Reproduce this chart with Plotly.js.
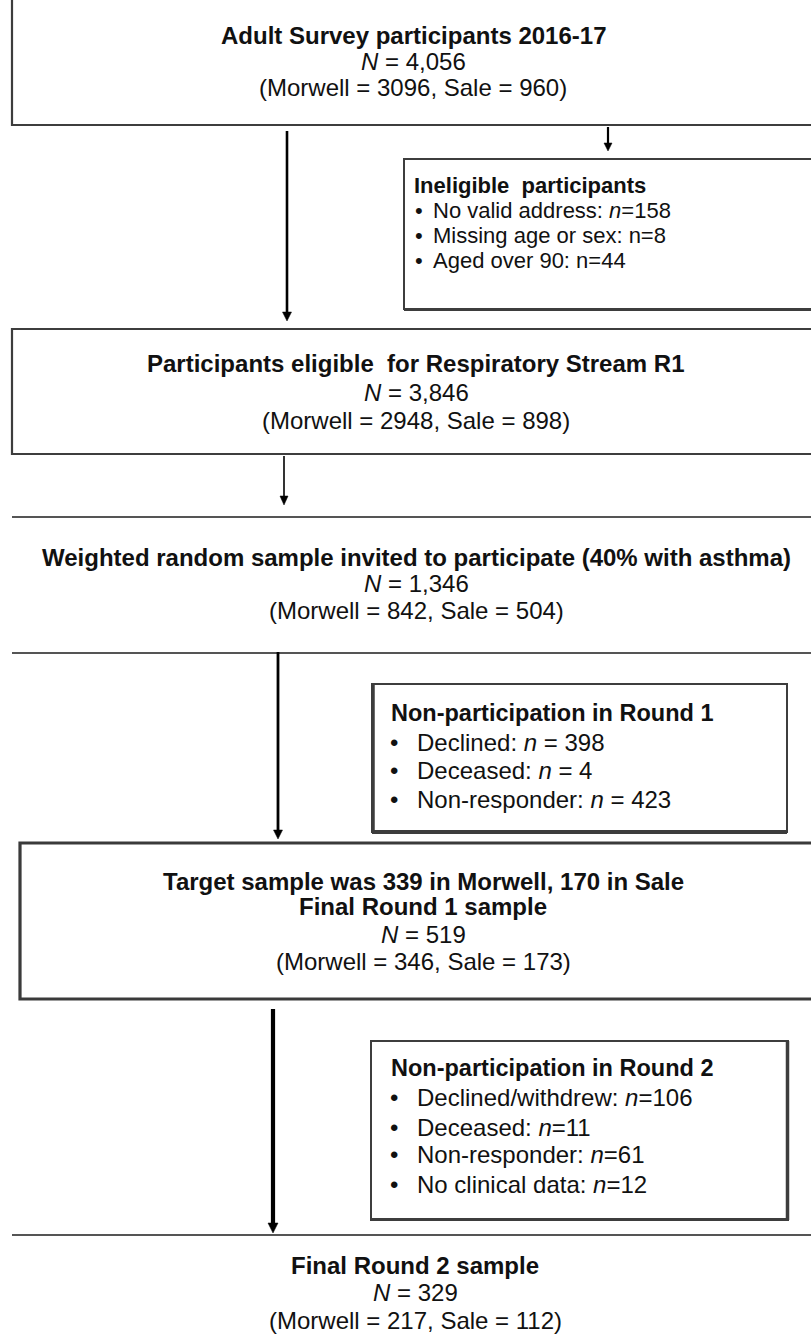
<!DOCTYPE html>
<html>
<head>
<meta charset="utf-8">
<script src="https://cdn.plot.ly/plotly-3.0.1.min.js"></script>
<style>html,body{margin:0;padding:0;background:#fff}#chart{width:811px;height:1344px}</style>
</head>
<body>
<div id="chart"></div>
<script>
// ---------- DATA ----------
const stageTitles = [
  ["Adult Survey participants 2016-17"],
  ["Participants eligible  for Respiratory Stream R1"],
  ["Weighted random sample invited to participate (40% with asthma)"],
  ["Target sample was 339 in Morwell, 170 in Sale", "Final Round 1 sample"],
  ["Final Round 2 sample"]
];
const stageN = ["4,056", "3,846", "1,346", "519", "329"];
const stageMorwell = [3096, 2948, 842, 346, 217];
const stageSale = [960, 898, 504, 173, 112];

const exclTitles = ["Ineligible  participants", "Non-participation in Round 1", "Non-participation in Round 2"];
const exclLabels = [
  ["No valid address", "Missing age or sex", "Aged over 90"],
  ["Declined", "Deceased", "Non-responder"],
  ["Declined/withdrew", "Deceased", "Non-responder", "No clinical data"]
];
const exclCounts = [[158, 8, 44], [398, 4, 423], [106, 11, 61, 12]];
const exclItalicN = [[true, false, false], [true, true, true], [true, true, true, true]];
const exclEq = ["=", " = ", "="];

// ---------- LAYOUT GEOMETRY ----------
const W = 811, H = 1344;
const FONT = "Liberation Sans, Arial, Helvetica, sans-serif";
const INK = "#111111";
const EDGE = "#3d3d3d";

const stageTextPos = [
  {x: 413, y: [35, 61, 87]},
  {x: 416, y: [363, 392, 420]},
  {x: 416, y: [557, 583, 610]},
  {x: 423, y: [881, 906, 934, 961]},
  {x: 415, y: [1265, 1292, 1320]}
];
const stageFont = 24;

const exclPos = [
  {tx: 412, dx: 419, ix: 431, ty: 185, iy: [210, 235, 260], fs: 22, tfs: 22},
  {tx: 389, dx: 394, ix: 415, ty: 713, iy: [742, 770, 799], fs: 24, tfs: 23.5},
  {tx: 389, dx: 394, ix: 415, ty: 1068, iy: [1097, 1127, 1154, 1184], fs: 24, tfs: 23.5}
];

const shapes = [];
function line(x0, y0, x1, y1, w, c) {
  shapes.push({type: "line", xref: "x", yref: "y", x0: x0, y0: y0, x1: x1, y1: y1,
    line: {color: c || EDGE, width: w}});
}
function rect(x0, y0, x1, y1, w, c) {
  shapes.push({type: "rect", xref: "x", yref: "y", x0: x0, y0: y0, x1: x1, y1: y1,
    line: {color: c || EDGE, width: w}, fillcolor: "rgba(0,0,0,0)"});
}
function arrow(x, y0, y1, w, hw, hl) {
  shapes.push({type: "line", xref: "x", yref: "y", x0: x, y0: y0, x1: x, y1: y1 - hl + 1,
    line: {color: "#000", width: w}});
  shapes.push({type: "path", xref: "x", yref: "y",
    path: "M " + (x - hw) + " " + (y1 - hl) + " L " + (x + hw) + " " + (y1 - hl) + " L " + x + " " + y1 + " Z",
    fillcolor: "#000", line: {color: "#000", width: 0.5}});
}

// main stage boxes
rect(12, -10, W + 10, 125, 2.2);
rect(12, 329, W + 10, 454, 2.2);
line(12, 517, W, 517, 2, "#555");
line(12, 653, W, 653, 2, "#555");
rect(20, 843, W + 10, 999, 3.2, "#3a3a3a");
line(12, 1235, W, 1235, 2, "#555");

// side boxes
rect(404, 159, W + 10, 309, 2);
line(404, 309.5, W, 309.5, 3);
rect(372, 684, 787, 832, 2);
line(372, 832, 787, 832, 4);
line(373, 684, 373, 832, 3.5);
rect(371, 1041, 788, 1220, 2);
line(787.5, 1041, 787.5, 1220, 3.5);
line(371, 1219.5, 788, 1219.5, 3);

// arrows
arrow(287, 131, 321, 2.6, 4.5, 9);
arrow(608, 127, 151, 2.2, 4, 8);
arrow(284, 456, 505, 1.6, 4, 9);
arrow(278, 652, 839, 2.8, 4.5, 9);
arrow(273, 1009, 1233, 4.2, 5, 10);

// ---------- TEXT ----------
const annotations = [];
function txt(x, y, t, size, anchor, color) {
  annotations.push({x: x, y: y, xref: "x", yref: "y", text: t, showarrow: false,
    xanchor: anchor || "center", yanchor: "middle",
    font: {family: FONT, size: size, color: color || INK}});
}

stageTitles.forEach(function (titles, i) {
  const p = stageTextPos[i];
  let k = 0;
  titles.forEach(function (t) { txt(p.x, p.y[k++], "<b>" + t + "</b>", stageFont); });
  txt(p.x, p.y[k++], "<i>N</i> = " + stageN[i], stageFont);
  txt(p.x, p.y[k++], "(Morwell = " + stageMorwell[i] + ", Sale = " + stageSale[i] + ")", stageFont);
});

exclTitles.forEach(function (title, g) {
  const p = exclPos[g];
  txt(p.tx, p.ty, "<b>" + title + "</b>", p.tfs, "left");
  exclLabels[g].forEach(function (lab, j) {
    const n = exclItalicN[g][j] ? "<i>n</i>" : "n";
    txt(p.dx, p.iy[j], "•", p.fs, "center");
    txt(p.ix, p.iy[j], lab + ": " + n + exclEq[g] + exclCounts[g][j], p.fs, "left");
  });
});

const layout = {
  width: W, height: H,
  margin: {l: 0, r: 0, t: 0, b: 0, pad: 0},
  paper_bgcolor: "#ffffff", plot_bgcolor: "#ffffff",
  xaxis: {range: [0, W], visible: false, fixedrange: true},
  yaxis: {range: [H, 0], visible: false, fixedrange: true},
  showlegend: false,
  shapes: shapes,
  annotations: annotations
};

Plotly.newPlot("chart", [{x: [], y: [], type: "scatter", mode: "markers", hoverinfo: "skip"}], layout,
  {staticPlot: true, displayModeBar: false});
</script>
</body>
</html>
